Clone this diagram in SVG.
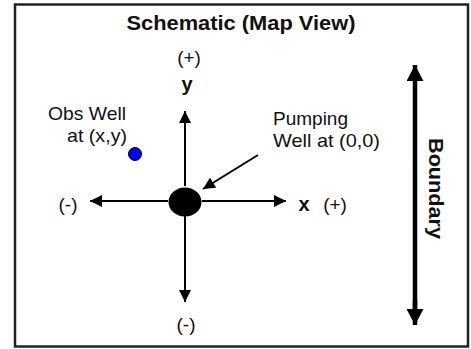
<svg xmlns="http://www.w3.org/2000/svg" width="471" height="349" viewBox="0 0 471 349">
<style>
text{font-family:"Liberation Sans",Arial,sans-serif;fill:#111}
.r{font-size:19px}
.b{font-size:20px;font-weight:bold}
.ax{stroke:#000;stroke-width:2;fill:none}
</style>
<defs>
<marker id="ah" viewBox="0 0 12 12" refX="12" refY="6" markerWidth="12" markerHeight="12" markerUnits="userSpaceOnUse" orient="auto"><path d="M0,0 L12,6 L0,12 Z" fill="#000"/></marker>
<marker id="bh" viewBox="0 0 16 17" refX="16" refY="8.5" markerWidth="16" markerHeight="17" markerUnits="userSpaceOnUse" orient="auto"><path d="M0,0 L16,8.5 L0,17 Z" fill="#000"/></marker>
</defs>
<rect x="15" y="4.5" width="453" height="342" fill="#fff" stroke="#222" stroke-width="2.5"/>
<text class="b" x="241" y="30" text-anchor="middle" textLength="229" lengthAdjust="spacingAndGlyphs">Schematic (Map View)</text>
<g id="connectors">
<line class="ax" x1="185" y1="186" x2="185" y2="111" marker-end="url(#ah)"/>
<line class="ax" x1="185" y1="216" x2="185" y2="302" marker-end="url(#ah)"/>
<line class="ax" x1="168" y1="201" x2="90" y2="201" marker-end="url(#ah)"/>
<line class="ax" x1="202" y1="201" x2="286" y2="201" marker-end="url(#ah)"/>
<line class="ax" x1="258" y1="155" x2="203" y2="189" marker-end="url(#ah)"/>
<line x1="415" y1="80" x2="415" y2="65" stroke="#000" stroke-width="4.5" marker-end="url(#bh)"/>
<line x1="415" y1="80" x2="415" y2="309" stroke="#000" stroke-width="4.5"/>
<line x1="415" y1="300" x2="415" y2="325" stroke="#000" stroke-width="4.5" marker-end="url(#bh)"/>
</g>
<g id="pumping-well">
<ellipse cx="185" cy="202" rx="16.5" ry="14.5" fill="#000"/>
<text class="r" x="273" y="125" textLength="75" lengthAdjust="spacingAndGlyphs">Pumping</text>
<text class="r" x="273" y="147" textLength="107" lengthAdjust="spacingAndGlyphs">Well at (0,0)</text>
</g>
<g id="obs-well">
<circle cx="135" cy="154" r="6.5" fill="#0000ee" stroke="#000033" stroke-width="1"/>
<text class="r" x="126" y="120" text-anchor="end" textLength="78" lengthAdjust="spacingAndGlyphs">Obs Well</text>
<text class="r" x="127" y="142" text-anchor="end" textLength="60" lengthAdjust="spacingAndGlyphs">at (x,y)</text>
</g>
<g id="axis-labels">
<text class="r" x="189" y="64" text-anchor="middle">(+)</text>
<text class="b" x="187" y="91" text-anchor="middle">y</text>
<text class="r" x="186" y="331" text-anchor="middle">(-)</text>
<text class="r" x="68" y="211" text-anchor="middle">(-)</text>
<text class="b" x="304" y="211" text-anchor="middle">x</text>
<text class="r" x="335" y="211" text-anchor="middle">(+)</text>
</g>
<g id="boundary">
<text class="b" transform="translate(429,188.5) rotate(90)" x="0" y="0" text-anchor="middle" textLength="101" lengthAdjust="spacingAndGlyphs">Boundary</text>
</g>
</svg>
